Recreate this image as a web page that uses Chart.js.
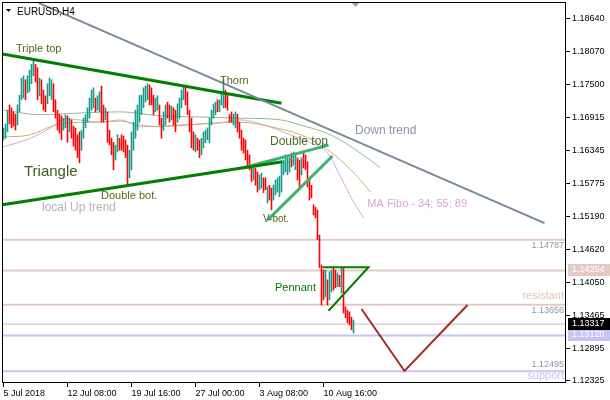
<!DOCTYPE html>
<html lang="en">
<head>
<meta charset="UTF-8">
<title>EURUSD,H4</title>
<style>
    body { margin: 0; background: #ffffff; }
    #wrap { width: 610px; height: 400px; }
</style>
</head>
<body>
<div id="wrap"><canvas id="chart" width="610" height="400"></canvas></div>
<script src="https://cdn.jsdelivr.net/npm/chart.js"></script>
<script>
// H4 bars from 5 Jul 2018 (high / low per bar)
const highs = [
    1.1674, 1.1681, 1.1705, 1.1714, 1.1709, 1.1702, 1.1698, 1.1714, 1.1731, 1.1761,
    1.1765, 1.1758, 1.1765, 1.1775, 1.1785, 1.1792, 1.1785, 1.1779, 1.1761, 1.1758,
    1.1740, 1.1730, 1.1751, 1.1761, 1.1758, 1.1751, 1.1723, 1.1705, 1.1698, 1.1695,
    1.1691, 1.1697, 1.1695, 1.1691, 1.1688, 1.1677, 1.1674, 1.1662, 1.1667, 1.1670,
    1.1691, 1.1697, 1.1709, 1.1726, 1.1740, 1.1744, 1.1726, 1.1730, 1.1737, 1.1747,
    1.1714, 1.1709, 1.1702, 1.1670, 1.1656, 1.1649, 1.1644, 1.1662, 1.1656, 1.1662,
    1.1660, 1.1653, 1.1644, 1.1635, 1.1667, 1.1684, 1.1705, 1.1714, 1.1731, 1.1731,
    1.1744, 1.1747, 1.1751, 1.1749, 1.1744, 1.1731, 1.1726, 1.1730, 1.1714, 1.1691,
    1.1702, 1.1714, 1.1719, 1.1714, 1.1712, 1.1709, 1.1705, 1.1716, 1.1726, 1.1740,
    1.1745, 1.1744, 1.1737, 1.1705, 1.1691, 1.1667, 1.1662, 1.1656, 1.1653, 1.1656,
    1.1667, 1.1670, 1.1674, 1.1691, 1.1705, 1.1716, 1.1719, 1.1723, 1.1723, 1.1737,
    1.1758, 1.1740, 1.1731, 1.1697, 1.1702, 1.1698, 1.1702, 1.1698, 1.1684, 1.1670,
    1.1656, 1.1653, 1.1635, 1.1627, 1.1609, 1.1608, 1.1604, 1.1597, 1.1592, 1.1595,
    1.1587, 1.1587, 1.1571, 1.1574, 1.1569, 1.1574, 1.1583, 1.1587, 1.1590, 1.1613,
    1.1618, 1.1627, 1.1622, 1.1622, 1.1630, 1.1632, 1.1630, 1.1622, 1.1618, 1.1622,
    1.1630, 1.1627, 1.1615, 1.1583, 1.1574, 1.1540, 1.1536, 1.1531, 1.1487, 1.1435,
    1.1426, 1.1426, 1.1409, 1.1423, 1.1426, 1.1431, 1.1426, 1.1421, 1.1417, 1.1431,
    1.1431, 1.1362, 1.1356, 1.1353, 1.1344, 1.1339
];
const lows = [
    1.1653, 1.1656, 1.1667, 1.1681, 1.1674, 1.1677, 1.1670, 1.1679, 1.1702, 1.1723,
    1.1726, 1.1723, 1.1735, 1.1737, 1.1751, 1.1765, 1.1754, 1.1723, 1.1730, 1.1716,
    1.1705, 1.1702, 1.1716, 1.1730, 1.1723, 1.1702, 1.1691, 1.1670, 1.1665, 1.1653,
    1.1670, 1.1674, 1.1649, 1.1667, 1.1656, 1.1642, 1.1635, 1.1622, 1.1613, 1.1635,
    1.1656, 1.1674, 1.1684, 1.1691, 1.1705, 1.1709, 1.1702, 1.1705, 1.1702, 1.1684,
    1.1684, 1.1688, 1.1649, 1.1644, 1.1627, 1.1601, 1.1618, 1.1632, 1.1635, 1.1635,
    1.1632, 1.1622, 1.1574, 1.1587, 1.1601, 1.1635, 1.1656, 1.1670, 1.1684, 1.1697,
    1.1709, 1.1719, 1.1723, 1.1714, 1.1714, 1.1697, 1.1702, 1.1705, 1.1679, 1.1656,
    1.1670, 1.1679, 1.1691, 1.1684, 1.1688, 1.1679, 1.1667, 1.1684, 1.1691, 1.1709,
    1.1723, 1.1714, 1.1697, 1.1667, 1.1639, 1.1635, 1.1632, 1.1635, 1.1622, 1.1627,
    1.1639, 1.1648, 1.1653, 1.1648, 1.1679, 1.1691, 1.1697, 1.1702, 1.1702, 1.1714,
    1.1709, 1.1709, 1.1705, 1.1684, 1.1684, 1.1679, 1.1674, 1.1667, 1.1656, 1.1635,
    1.1630, 1.1618, 1.1604, 1.1601, 1.1580, 1.1583, 1.1574, 1.1562, 1.1566, 1.1569,
    1.1561, 1.1566, 1.1543, 1.1548, 1.1531, 1.1548, 1.1557, 1.1562, 1.1554, 1.1562,
    1.1592, 1.1597, 1.1592, 1.1597, 1.1606, 1.1609, 1.1601, 1.1583, 1.1571, 1.1592,
    1.1604, 1.1601, 1.1571, 1.1548, 1.1552, 1.1522, 1.1517, 1.1479, 1.1430, 1.1365,
    1.1374, 1.1379, 1.1365, 1.1374, 1.1388, 1.1391, 1.1395, 1.1397, 1.1397, 1.1386,
    1.1351, 1.1343, 1.1334, 1.1330, 1.1322, 1.1316
];
// u = bull bar, d = bear bar
const dirs = (
    'uuudddduuu' + 'uduuuuddud' + 'dduuuddddd' + 'uududddddu' + 'uuuuuuduud' +
    'dudddduudd' + 'ddduuuuuuu' + 'uuuddduudd' + 'uuddudduuu' + 'uddddduddu' +
    'uuuuuuuduu' + 'udddduuddd' + 'dddddudduu' + 'ddudduuuuu' + 'uuuuduuddu' +
    'dddddddddd' + 'duduuddudu' + 'dddddu'
).split('');

// Moving averages (displaced), [bar, price]
const ma34 = [[0, 1.1641], [13.5, 1.1656], [23.5, 1.1674], [31, 1.1690], [48.5, 1.1684], [58.5, 1.1688],
    [68.5, 1.1676], [88.5, 1.1679], [108.5, 1.1683], [118.5, 1.1688], [128.5, 1.1681], [143.5, 1.1662],
    [153.5, 1.1648], [162, 1.1630], [168.5, 1.1589], [174.5, 1.1548], [180, 1.1517]];
const ma55 = [[0, 1.1658], [13.5, 1.1662], [23.5, 1.1676], [33.5, 1.1683], [48.5, 1.1684], [58.5, 1.1686],
    [68.5, 1.1679], [78.5, 1.1676], [98.5, 1.1681], [118.5, 1.1684], [133.5, 1.1676], [148.5, 1.1662],
    [158.5, 1.1644], [168.5, 1.1618], [178.5, 1.1583], [183.5, 1.1562]];
const ma89 = [[0, 1.1705], [18.5, 1.1697], [38.5, 1.1700], [58.5, 1.1702], [78.5, 1.1695], [98.5, 1.1693],
    [118.5, 1.1691], [138.5, 1.1688], [148.5, 1.1679], [163.5, 1.1662], [178.5, 1.1630], [188.5, 1.1604]];

// horizontal levels
const resistLevels = [1.14787, 1.14254, 1.13656];
const supportLevels = [1.13120, 1.12495];
const bidPrice = 1.13317;

// trend lines, [bar, price]
const triangleTop = [[-0.5, 1.1803], [139, 1.1717]];
const triangleBottom = [[-0.5, 1.1540], [139.5, 1.1615]];
const doubleTopLine = [[119.5, 1.1604], [162.5, 1.1644]];
const vBotLine = [[132, 1.1513], [164.5, 1.1625]];
const topMarker = [[143.5, 1.1620], [152, 1.1620]];
const pennantLines = [[159.5, 1.1431], [182.5, 1.1431], [162.5, 1.1355]];
const downTrend = [[17.5, 1.1892], [270.5, 1.1508]];
const projection = [[179, 1.1358], [200.5, 1.1250], [232, 1.1365]];

// axes
const yTicks = [1.18640, 1.18070, 1.17500, 1.16915, 1.16345, 1.15775, 1.15190, 1.14620, 1.14050, 1.13465, 1.12895, 1.12325];
const xTickBars = [0, 32, 64, 96, 128, 160];
const xTickLabels = ['5 Jul 2018', '12 Jul 08:00', '19 Jul 16:00', '27 Jul 00:00', '3 Aug 08:00', '10 Aug 16:00'];
const xMin = -0.75, xMax = 281.25;
const yMin = 1.12290, yMax = 1.18936;

Chart.defaults.font.family = 'Liberation Sans';

const pts = arr => arr.map(p => ({ x: p[0], y: p[1] }));
const hline = (p) => [{ x: xMin, y: p }, { x: xMax, y: p }];

function lineSet(data, color, width, extra) {
    return Object.assign({
        type: 'line', data: data, borderColor: color, borderWidth: width,
        pointRadius: 0, fill: false, tension: 0
    }, extra || {});
}

const datasets = [];
resistLevels.forEach(p => datasets.push(lineSet(hline(p), '#e3cbc4', 2, { order: 20 })));
supportLevels.forEach(p => datasets.push(lineSet(hline(p), '#c4c4f6', 2, { order: 20 })));
datasets.push(lineSet(hline(bidPrice), '#c0c0c0', 1, { order: 20 }));

datasets.push(lineSet(pts(ma89), '#8fbc8f', 1, { order: 15, cubicInterpolationMode: 'monotone' }));
datasets.push(lineSet(pts(ma55), '#bdb76b', 1, { order: 15, cubicInterpolationMode: 'monotone' }));
datasets.push(lineSet(pts(ma34), '#dda0dd', 1, { order: 15, cubicInterpolationMode: 'monotone' }));

datasets.push({
    type: 'bar',
    data: highs.map((h, i) => ({ x: i, y: [lows[i], h] })),
    backgroundColor: dirs.map(d => d === 'u' ? '#149a8a' : '#ff0000'),
    borderWidth: 0,
    barThickness: 1,
    inflateAmount: 0.3,
    order: 10
});

datasets.push(lineSet(pts(downTrend), '#778899', 2, { order: 5 }));
datasets.push(lineSet(pts(triangleTop), '#008000', 3, { order: 5 }));
datasets.push(lineSet(pts(triangleBottom), '#008000', 3, { order: 5 }));
datasets.push(lineSet(pts(doubleTopLine), '#3cb371', 3, { order: 5 }));
datasets.push(lineSet(pts(vBotLine), '#3cb371', 3, { order: 5 }));
datasets.push(lineSet(pts(topMarker), '#a0a0a0', 1, { order: 5, borderDash: [3, 2] }));
datasets.push(lineSet(pts(pennantLines), '#008000', 2, { order: 5 }));
datasets.push(lineSet(pts(projection), '#a52a2a', 2, { order: 5 }));

const olive = '#4f6a1c';
const notes = [
    { text: 'Triple top', x: 16, y: 52, color: olive, font: '11px "Liberation Sans"' },
    { text: 'Thorn', x: 220, y: 84, color: olive, font: '11px "Liberation Sans"' },
    { text: 'Triangle', x: 24, y: 176, color: '#3e5c18', font: '15px "Liberation Sans"' },
    { text: 'Double bot.', x: 101, y: 199, color: olive, font: '11px "Liberation Sans"' },
    { text: 'local Up trend', x: 42, y: 211, color: '#b4b4b4', font: '12px "Liberation Sans"' },
    { text: 'Double top', x: 270, y: 145, color: olive, font: '12px "Liberation Sans"' },
    { text: 'V-bot.', x: 263, y: 222, color: olive, font: '10px "Liberation Sans"' },
    { text: 'Down trend', x: 355, y: 134, color: '#8896a8', font: '12px "Liberation Sans"' },
    { text: 'MA Fibo - 34; 55; 89', x: 467, y: 207, color: '#dda0dd', font: '11px "Liberation Sans"', align: 'right' },
    { text: 'Pennant', x: 275, y: 291, color: '#008000', font: '11px "Liberation Sans"' }
];

const overlay = {
    id: 'overlay',
    afterDatasetsDraw(chart) {
        const ctx = chart.ctx;
        const y = chart.scales.y;
        const right = chart.chartArea.right - 2;
        ctx.save();
        ctx.textBaseline = 'alphabetic';
        notes.forEach(n => {
            ctx.font = n.font;
            ctx.fillStyle = n.color;
            ctx.textAlign = n.align || 'left';
            ctx.fillText(n.text, n.x, n.y);
        });
        // level values and names
        ctx.textAlign = 'right';
        ctx.font = '9px "Liberation Sans"';
        ctx.fillStyle = '#8a96a8';
        ctx.fillText(resistLevels[0].toFixed(5), right, y.getPixelForValue(resistLevels[0]) + 8);
        ctx.fillText(resistLevels[2].toFixed(5), right, y.getPixelForValue(resistLevels[2]) + 8);
        ctx.fillText(supportLevels[1].toFixed(5), right, y.getPixelForValue(supportLevels[1]) - 4);
        ctx.font = '11px "Liberation Sans"';
        ctx.fillStyle = '#dfc3bb';
        ctx.fillText('resistant', right, y.getPixelForValue(resistLevels[2]) - 6);
        ctx.fillStyle = '#c2c2f2';
        ctx.fillText('support', right, y.getPixelForValue(supportLevels[1]) + 8);
        ctx.restore();
    },
    afterDraw(chart) {
        const ctx = chart.ctx;
        const a = chart.chartArea;
        const y = chart.scales.y;
        ctx.save();
        // frame
        ctx.strokeStyle = '#000';
        ctx.lineWidth = 1;
        ctx.strokeRect(a.left + 0.5, a.top + 0.5, a.right - a.left - 1, a.bottom - a.top - 1);
        // title
        ctx.fillStyle = '#000';
        ctx.beginPath();
        ctx.moveTo(6, 9); ctx.lineTo(11, 9); ctx.lineTo(8.5, 12); ctx.closePath();
        ctx.fill();
        ctx.font = '10px "Liberation Sans"';
        ctx.textAlign = 'left';
        ctx.textBaseline = 'alphabetic';
        ctx.fillText('EURUSD,H4', 17, 15);
        // chart shift marker
        ctx.fillStyle = '#a0a0a0';
        ctx.beginPath();
        ctx.moveTo(352, 3); ctx.lineTo(359, 3); ctx.lineTo(355.5, 7); ctx.closePath();
        ctx.fill();
        // price tags on the axis
        const tags = [
            { p: resistLevels[1], bg: '#e3cbc4' },
            { p: supportLevels[0], bg: '#c4c4f6' },
            { p: bidPrice, bg: '#000000' }
        ];
        ctx.font = '9px "Liberation Sans"';
        ctx.textBaseline = 'middle';
        tags.forEach(t => {
            const py = Math.round(y.getPixelForValue(t.p));
            ctx.fillStyle = t.bg;
            ctx.fillRect(a.right + 2, py - 6, 610 - a.right - 2, 12);
            ctx.fillStyle = '#ffffff';
            ctx.fillText(t.p.toFixed(5), a.right + 6, py);
        });
        ctx.restore();
    }
};

new Chart(document.getElementById('chart'), {
    type: 'bar',
    data: { datasets: datasets },
    options: {
        responsive: false,
        animation: false,
        events: [],
        layout: { padding: { left: 2, top: 2, right: 0, bottom: 0 } },
        plugins: { legend: { display: false }, tooltip: { enabled: false } },
        scales: {
            x: {
                type: 'linear', min: xMin, max: xMax, offset: false,
                afterBuildTicks: s => { s.ticks = xTickBars.map(v => ({ value: v })); },
                afterFit: s => { s.height = 17; s.paddingLeft = 0; s.paddingRight = 0; s.paddingTop = 0; s.paddingBottom = 0; },
                ticks: {
                    autoSkip: false, maxRotation: 0, align: 'start', padding: 1,
                    color: '#000', font: { size: 9 },
                    callback: (v, i) => xTickLabels[i]
                },
                grid: { drawOnChartArea: false, tickLength: 4, color: '#000', offset: false },
                border: { display: false }
            },
            y: {
                type: 'linear', position: 'right', min: yMin, max: yMax,
                afterBuildTicks: s => { s.ticks = yTicks.map(v => ({ value: v })); },
                afterFit: s => { s.width = 44; s.paddingLeft = 0; s.paddingRight = 0; s.paddingTop = 0; s.paddingBottom = 0; },
                ticks: {
                    autoSkip: false, padding: 2, color: '#000', font: { size: 9 },
                    callback: v => v.toFixed(5)
                },
                grid: { drawOnChartArea: false, tickLength: 4, color: '#000' },
                border: { display: false }
            }
        }
    },
    plugins: [overlay]
});
</script>
</body>
</html>
